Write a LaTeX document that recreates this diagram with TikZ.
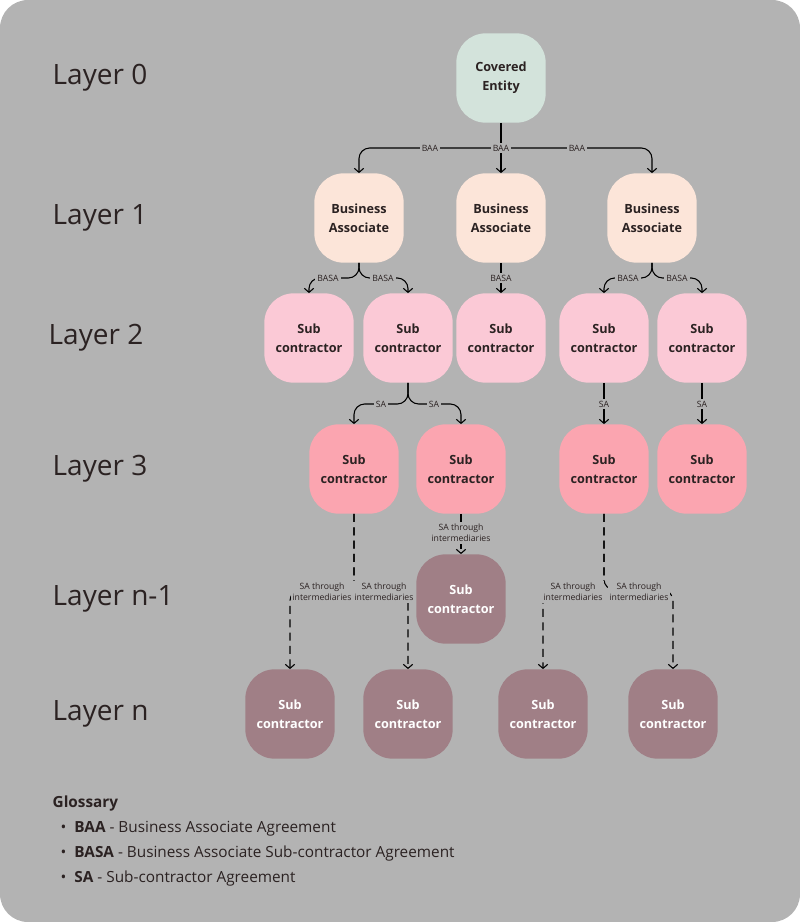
\documentclass[tikz,border=0pt]{standalone}
\usepackage{fontspec}
\setmainfont{Open Sans}
\usetikzlibrary{arrows.meta,positioning}
\definecolor{bg}{HTML}{B3B3B3}
\definecolor{ceC}{HTML}{D3E3DB}
\definecolor{baC}{HTML}{FCE5D9}
\definecolor{ltwoC}{HTML}{FBC9D6}
\definecolor{lthreeC}{HTML}{FBA5B0}
\definecolor{lnC}{HTML}{A07F86}
\definecolor{txt}{HTML}{2B2222}
\begin{document}
\begin{tikzpicture}[x=0.75pt,y=-0.75pt,
  box/.style={rounded corners=22pt,minimum width=67pt,minimum height=67pt,align=center,
    font=\fontsize{9.5}{14}\selectfont\bfseries,text=txt},
  layer/.style={font=\fontsize{21}{24}\selectfont,anchor=west,text=txt},
  arj/.style={thick,rounded corners=8pt,-{Straight Barb[length=3pt,width=7pt]}},
  dsh/.style={arj,dashed,dash pattern=on 6pt off 4pt},
  lbl/.style={fill=bg,inner sep=1.5pt,font=\fontsize{6.5}{8}\selectfont,align=center,text=txt}]
\fill[bg,rounded corners=21pt] (0,0) rectangle (800,922);
% layer titles
\node[layer] (l0) at (48,78) {Layer 0};
\node[layer] (l1) at (48,218) {Layer 1};
\node[layer] (l2) at (44,338) {Layer 2};
\node[layer] (l3) at (48,469) {Layer 3};
\node[layer] (l4) at (48,599) {Layer n-1};
\node[layer] (l5) at (48,714) {Layer n};
% nodes
\node[box,fill=ceC] (ce) at (501,78) {Covered\\Entity};
\node[box,fill=baC] (ba1) at (359,218) {Business\\Associate};
\node[box,fill=baC] (ba2) at (501,218) {Business\\Associate};
\node[box,fill=baC] (ba3) at (652,218) {Business\\Associate};
\foreach \n/\x in {a/309,b/408,c/501,d/604,e/702}
  \node[box,fill=ltwoC] (s2\n) at (\x,338) {Sub\\contractor};
\foreach \n/\x in {a/354,b/461,d/604,e/702}
  \node[box,fill=lthreeC] (s3\n) at (\x,469) {Sub\\contractor};
\node[box,fill=lnC,text=white] (s4) at (461,599) {Sub\\contractor};
\foreach \n/\x in {a/290,b/408,c/543,d/673}
  \node[box,fill=lnC,text=white] (s5\n) at (\x,714) {Sub\\contractor};
% BAA
\coordinate (baafork) at (501,148);
\draw[thick] (ce) -- (baafork);
\draw[arj] (baafork) -| (ba1);
\draw[arj] (baafork) -| (ba3);
\draw[arj] (baafork) -- (ba2);
\node[lbl] (baa1) at (430,148) {BAA};
\node[lbl] (baa2) at (501,148) {BAA};
\node[lbl] (baa3) at (577,148) {BAA};
% BASA
\coordinate (f1) at (359,278);
\coordinate (f3) at (652,278);
\draw[arj] (ba1.south) -- (f1) -| (s2a);
\draw[arj] (ba1.south) -- (f1) -| (s2b);
\draw[arj] (ba3.south) -- (f3) -| (s2d);
\draw[arj] (ba3.south) -- (f3) -| (s2e);
\draw[arj] (ba2) -- (s2c);
\node[lbl] (basa1) at (328,278) {BASA};
\node[lbl] (basa2) at (383,278) {BASA};
\node[lbl] (basa3) at (501,278) {BASA};
\node[lbl] (basa4) at (628,278) {BASA};
\node[lbl] (basa5) at (677,278) {BASA};
% SA
\coordinate (f2) at (408,404);
\draw[arj] (s2b.south) -- (f2) -| (s3a);
\draw[arj] (s2b.south) -- (f2) -| (s3b);
\draw[arj] (s2d) -- (s3d);
\draw[arj] (s2e) -- (s3e);
\node[lbl] (sa1) at (381,404) {SA};
\node[lbl] (sa2) at (434,404) {SA};
\node[lbl] (sa3) at (604,404) {SA};
\node[lbl] (sa4) at (702,404) {SA};
% SA through intermediaries
\coordinate (f4) at (354,590);
\coordinate (f5) at (604,590);
\draw[dsh] (s3a.south) -- (f4) -| (s5a);
\draw[dsh] (s3a.south) -- (f4) -| (s5b);
\draw[dsh] (s3d.south) -- (f5) -| (s5c);
\draw[dsh] (s3d.south) -- (f5) -| (s5d);
\draw[dsh] (s3b) -- (s4);
\node[lbl] (sti1) at (322,592) {SA through\\intermediaries};
\node[lbl] (sti2) at (384,592) {SA through\\intermediaries};
\node[lbl] (sti3) at (461,533) {SA through\\intermediaries};
\node[lbl] (sti4) at (573,592) {SA through\\intermediaries};
\node[lbl] (sti5) at (639,592) {SA through\\intermediaries};
% glossary
\node[anchor=west,font=\fontsize{11.5}{14}\selectfont\bfseries,text=txt] (gl) at (48,804) {Glossary};
\node[anchor=north west,font=\fontsize{11.5}{18.4}\selectfont,text=txt,align=left] (gls) at (56,817)
  {\textbullet\ \ \textbf{BAA} - Business Associate Agreement\\
   \textbullet\ \ \textbf{BASA} - Business Associate Sub-contractor Agreement\\
   \textbullet\ \ \textbf{SA} - Sub-contractor Agreement};
\end{tikzpicture}
\end{document}
